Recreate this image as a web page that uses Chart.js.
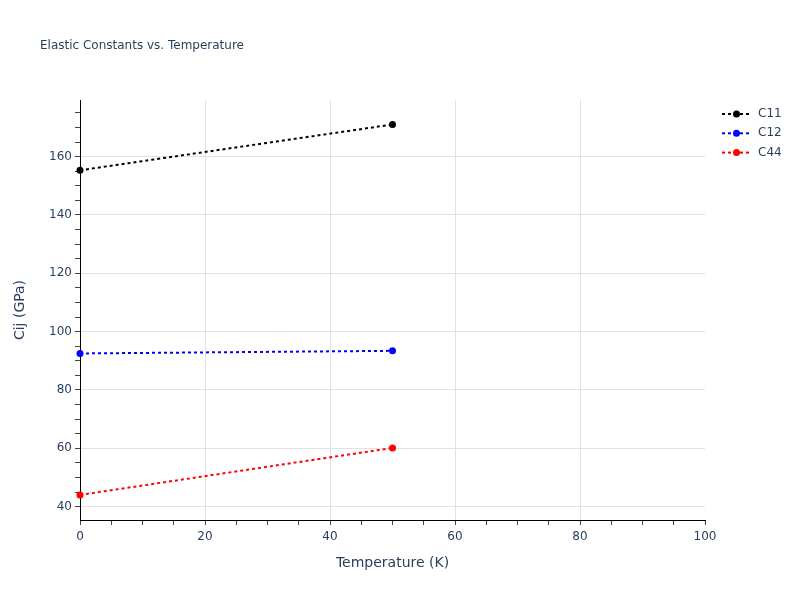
<!DOCTYPE html>
<html>
<head>
<meta charset="utf-8">
<script src="https://cdn.jsdelivr.net/npm/chart.js@4"></script>
<style>
html,body{margin:0;padding:0;background:#fff;}
#wrap{width:800px;height:600px;}
</style>
</head>
<body>
<div id="wrap"><canvas id="c" width="800" height="600"></canvas></div>
<script>
const temperatures = [0, 50];
const c11 = [155.3, 171.0];
const c12 = [92.5, 93.4];
const c44 = [44.0, 60.1];
const seriesNames = ['C11', 'C12', 'C44'];
const seriesColors = ['#000000', '#0000ff', '#ff0000'];
const chartTitle = 'Elastic Constants vs. Temperature';
const xTitle = 'Temperature (K)';
const yTitle = 'Cij (GPa)';

const FONT = '"DejaVu Sans", Verdana, sans-serif';
const TXT = '#2a3f5f';

function pts(ys){ return temperatures.map((t,i)=>({x:t, y:ys[i]})); }
const seriesValues = [c11, c12, c44];

const datasets = seriesNames.map((n,i)=>({
  label: n,
  data: pts(seriesValues[i]),
  borderColor: seriesColors[i],
  backgroundColor: seriesColors[i],
  pointBackgroundColor: seriesColors[i],
  pointBorderWidth: 0,
  pointRadius: 3.5,
  borderWidth: 2,
  borderDash: [3,3],
  fill: false,
  clip: false,
  tension: 0
}));

const overlay = {
  id: 'overlay',
  afterDraw(chart){
    const ctx = chart.ctx;
    ctx.save();
    ctx.fillStyle = TXT;
    ctx.font = '12px ' + FONT;
    ctx.textBaseline = 'middle';
    ctx.textAlign = 'left';
    ctx.fillText(chartTitle, 40, 45.5);
    chart.data.datasets.forEach((ds,i)=>{
      const y = 114 + i*19.3;
      ctx.strokeStyle = ds.borderColor;
      ctx.lineWidth = 2;
      ctx.setLineDash([3,3]);
      ctx.beginPath(); ctx.moveTo(722,y); ctx.lineTo(751,y); ctx.stroke();
      ctx.setLineDash([]);
      ctx.fillStyle = ds.borderColor;
      ctx.beginPath(); ctx.arc(736.5,y,3.5,0,Math.PI*2); ctx.fill();
      ctx.fillStyle = TXT;
      ctx.fillText(ds.label, 758, y);
    });
    ctx.restore();
  }
};

const gridColor = (ctx, skipEnds) => {
  const v = ctx.tick && ctx.tick.value;
  if (v === undefined) return 'rgba(0,0,0,0)';
  if (Math.abs(v % 20) > 1e-9) return 'rgba(0,0,0,0)';
  if (skipEnds && (v === 0 || v === 100)) return 'rgba(0,0,0,0)';
  return '#e1e1e1';
};

new Chart(document.getElementById('c'), {
  type: 'line',
  data: { datasets },
  plugins: [overlay],
  options: {
    responsive: false,
    animation: false,
    devicePixelRatio: 1,
    layout: { padding: { left: 0, right: 95, top: 100, bottom: 0 } },
    plugins: { legend: { display: false }, title: { display: false }, tooltip: { enabled: false } },
    scales: {
      x: {
        type: 'linear', min: 0, max: 100,
        afterFit(s){ s.height = 80; },
        border: { color: '#000', width: 1 },
        grid: { color: (c)=>gridColor(c,true), tickColor: '#444', tickLength: 5, lineWidth: 1 },
        ticks: { stepSize: 5, autoSkip: false, maxRotation: 0, includeBounds: false, maxTicksLimit: 100,
          color: TXT, font: { family: FONT, size: 12 }, padding: 5,
          callback: (v)=> (v % 20 === 0 ? String(v) : '') },
        title: { display: true, text: xTitle, color: TXT, font: { family: FONT, size: 14 }, padding: { top: 0, bottom: 28.5 } }
      },
      y: {
        type: 'linear', min: 35.4, max: 179.4,
        afterFit(s){ s.width = 80; },
        border: { color: '#000', width: 1 },
        grid: { color: (c)=>gridColor(c,false), tickColor: '#444', tickLength: 5, lineWidth: 1 },
        ticks: { stepSize: 5, autoSkip: false, includeBounds: false, maxTicksLimit: 100,
          color: TXT, font: { family: FONT, size: 12 }, padding: 3,
          callback: (v)=> (v % 20 === 0 ? String(v) : '') },
        title: { display: true, text: yTitle, color: TXT, font: { family: FONT, size: 14 }, padding: { top: 12, bottom: 0 } }
      }
    }
  }
});
</script>
</body>
</html>
